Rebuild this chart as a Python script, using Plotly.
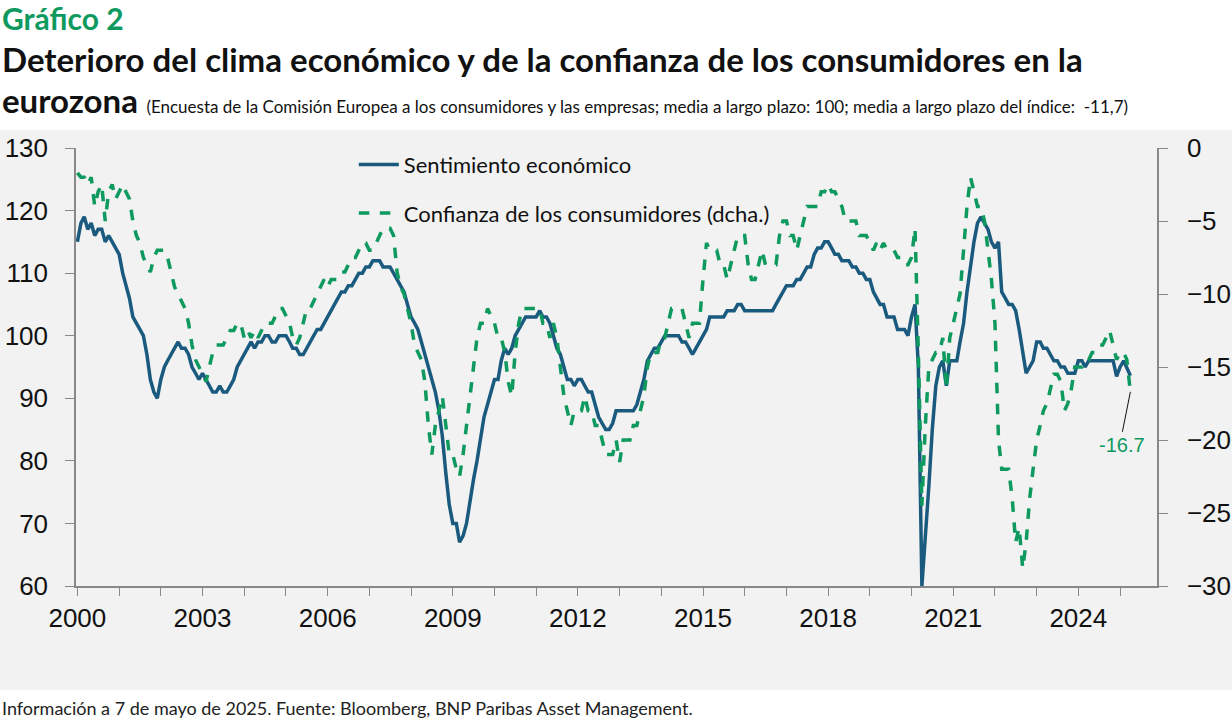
import plotly.graph_objects as go
import pandas as pd

esi = [
 115,118,119,117,118,116,117,117,115,116,115,114,
 113,110,108,106,103,102,101,100,97,93,91,90,
 93,95,96,97,98,99,98,98,97,95,94,93,
 94,93,92,91,91,92,91,91,92,93,95,96,
 97,98,99,98,99,99,100,100,99,99,100,100,
 100,99,98,98,97,97,98,99,100,101,101,102,
 103,104,105,106,107,107,108,108,109,110,110,111,
 111,112,112,112,111,111,111,110,109,108,107,105,
 103,102,101,99,97,95,93,91,88,84,78,73,
 70,70,67,68,70,74,77,80,84,87,89,91,
 93,93,96,98,97,98,100,101,102,103,103,103,
 103,104,103,103,102,100,98,97,95,93,93,92,
 93,93,92,91,91,89,87,86,85,85,86,88,
 88,88,88,88,88,89,91,93,96,97,98,98,
 99,100,100,100,100,100,99,99,98,97,98,99,
 100,101,103,103,103,103,103,104,104,104,105,105,
 104,104,104,104,104,104,104,104,104,105,106,107,
 108,108,108,109,109,110,111,111,113,114,114,115,
 115,114,113,113,112,112,112,111,111,110,110,109,
 109,107,106,105,105,103,103,103,101,101,101,100,
 103,105,95,60,67,76,85,92,95,96,92,96,
 96,96,99,102,107,111,115,118,119,118,117,115,
 114,115,107,106,105,105,104,101,97,94,95,96,
 99,99,98,98,97,96,96,95,95,94,94,94,
 96,96,95,96,96,96,96,96,96,96,96,93.5,
 95,96,95,93.6,
]

conf = [
 -1.7,-2,-2,-2.5,-2,-4,-3,-2.5,-5,-3,-2.5,-3.5,
 -3,-2.5,-3,-3.5,-5,-6,-6.5,-7.5,-8,-8.5,-7.5,-7,
 -7,-7,-7.5,-8.5,-9.5,-10,-10.5,-11,-12,-13.5,-14.5,-15,
 -15.5,-16,-15,-14,-13.5,-13.5,-13.5,-13,-12.5,-12.5,-12,-12,
 -13,-12.5,-13,-12.5,-13,-12.5,-12,-12,-12,-11.5,-11,-11,
 -11.5,-12,-13,-13.5,-13,-12,-11,-11,-10.5,-10,-9.5,-9,
 -9.5,-9,-9,-9,-8.5,-8.5,-8,-7.5,-7.5,-7,-6.5,-6.5,
 -7,-7,-6.5,-6,-5.5,-5.5,-5.5,-6,-8.5,-9.5,-10,-11,
 -12,-13.5,-14,-14.5,-16,-19,-21,-19,-18,-17,-19,-21,
 -21,-22,-22.5,-21,-19,-17,-15,-13,-12,-12,-11,-11.5,
 -12,-13,-13,-14,-16,-17,-14,-12,-11,-11,-11,-11,
 -11,-11,-12,-12,-13,-12,-13,-15,-17,-18,-19,-18,
 -18,-18,-17,-18,-18,-19,-19,-20,-21,-21,-21,-20,
 -21.5,-20,-20,-20,-19,-19,-18,-17,-15,-14,-14,-14,
 -13,-13,-12,-11,-11,-11,-11,-12,-13,-12,-12,-12,
 -9,-6.5,-7,-7,-7,-8,-8,-9,-8,-7,-6,-6,
 -6,-8,-9,-9,-8,-7,-8,-8,-8,-8,-6,-5,
 -5,-6,-6,-7,-6,-5,-4,-4,-4,-4,-3,-3,
 -2.5,-3,-3,-3.5,-4,-5,-5,-5,-5,-6,-6,-6,
 -6.5,-7,-6.5,-7,-6.5,-7,-7,-7,-7.5,-7.5,-8,-8,
 -7.5,-5.5,-14,-24.5,-19,-15,-14.5,-14,-14,-13,-16.5,-13,
 -12,-11,-10,-7,-4,-2,-3,-4,-4,-5,-7,-9,
 -12,-20,-22,-22,-22,-24,-27,-26,-28.8,-27,-24,-22,
 -20,-19,-18,-17.5,-16.5,-15.5,-15.5,-16,-18,-17.5,-16.5,-15,
 -15,-15,-14.5,-14.5,-14,-14,-13.5,-13.5,-13,-12.5,-13.5,-14.5,
 -14,-14,-14.5,-16.7,
]

dates = pd.date_range("2000-01-01", periods=len(esi), freq="MS")
last_label = "-16.7"

BLUE = "#1a5a7e"
GREEN = "#0e9a5e"
BG = "#f2f2f2"
TICKF = dict(family="Liberation Sans, Arial", size=26, color="#111")

fig = go.Figure()
fig.add_trace(go.Scatter(x=dates, y=esi, name="Sentimiento económico", mode="lines",
                         line=dict(color=BLUE, width=3.5), legendgroup="a"))
fig.add_trace(go.Scatter(x=dates, y=conf, name="Confianza de los consumidores (dcha.)", mode="lines",
                         line=dict(color=GREEN, width=3.5, dash="dash"), yaxis="y2", legendgroup="b"))

fig.update_layout(
    width=1232, height=723,
    margin=dict(l=76, r=75, t=148, b=137, autoexpand=False),
    paper_bgcolor="white", plot_bgcolor=BG,
    showlegend=True,
    legend=dict(x=0.257, y=1.01, xanchor="left", yanchor="top", bgcolor="rgba(0,0,0,0)",
                font=dict(family="Lato", size=22, color="#111"), tracegroupgap=17,
                itemwidth=40),
    xaxis=dict(type="date", range=["1999-12-20", "2025-11-20"], tick0="2000-01-01", dtick="M36",
               tickformat="%Y", ticks="outside", ticklen=8, tickcolor="#888", showline=True,
               linecolor="#888", linewidth=1.5, showgrid=False, tickfont=TICKF,
               minor=dict(dtick="M12", tick0="2000-01-01", ticks="outside", ticklen=8, tickcolor="#888", showgrid=False)),
    yaxis=dict(range=[60, 130], dtick=10, ticks="outside", ticklen=9, tickcolor="#888", showline=True,
               linecolor="#888", linewidth=1.5, showgrid=False, zeroline=False, tickfont=TICKF,
               ticklabelstandoff=12),
    yaxis2=dict(range=[-30, 0], dtick=5, overlaying="y", side="right", ticks="outside", ticklen=9,
                tickcolor="#888", showline=True, linecolor="#888", linewidth=1.5, showgrid=False,
                zeroline=False, tickfont=TICKF, ticklabelstandoff=14),
)

fig.add_shape(type="rect", xref="paper", yref="paper", x0=-0.071, x1=1.07, y0=-0.237, y1=1.041,
              fillcolor=BG, line=dict(width=0), layer="below")

fig.add_annotation(x=dates[-1], y=conf[-1], yref="y2", text=last_label, showarrow=True,
                   arrowhead=0, arrowwidth=1, arrowcolor="#111", ax=-8, ay=40,
                   font=dict(family="Liberation Sans, Arial", size=20, color=GREEN), yanchor="top")

TF = "Lato"
def py(p):
    return (586 - p) / 438

fig.add_annotation(xref="paper", yref="paper", x=-0.0703, y=py(18), xanchor="left", yanchor="middle",
                   text="<b>Gráfico 2</b>", showarrow=False,
                   font=dict(family=TF, size=30, color=GREEN))
fig.add_annotation(xref="paper", yref="paper", x=-0.0703, y=py(59), xanchor="left", yanchor="middle",
                   text="<b>Deterioro del clima económico y de la confianza de los consumidores en la</b>",
                   showarrow=False, font=dict(family=TF, size=33, color="#111"))
fig.add_annotation(xref="paper", yref="paper", x=-0.0703, y=py(100), xanchor="left", yanchor="middle",
                   text="<b>eurozona</b> <span style='font-size:17px'>(Encuesta de la Comisión Europea a los consumidores y las empresas; media a largo plazo: 100; media a largo plazo del índice:  -11,7)</span>",
                   showarrow=False, font=dict(family=TF, size=33, color="#111"))
fig.add_annotation(xref="paper", yref="paper", x=-0.0703, y=py(708), xanchor="left", yanchor="middle",
                   text="Información a 7 de mayo de 2025. Fuente: Bloomberg, BNP Paribas Asset Management.",
                   showarrow=False, font=dict(family=TF, size=18, color="#222"))

fig.write_html("out.html", config={"displayModeBar": False},
               post_script="document.body.style.margin='0';document.body.style.overflow='hidden';")
